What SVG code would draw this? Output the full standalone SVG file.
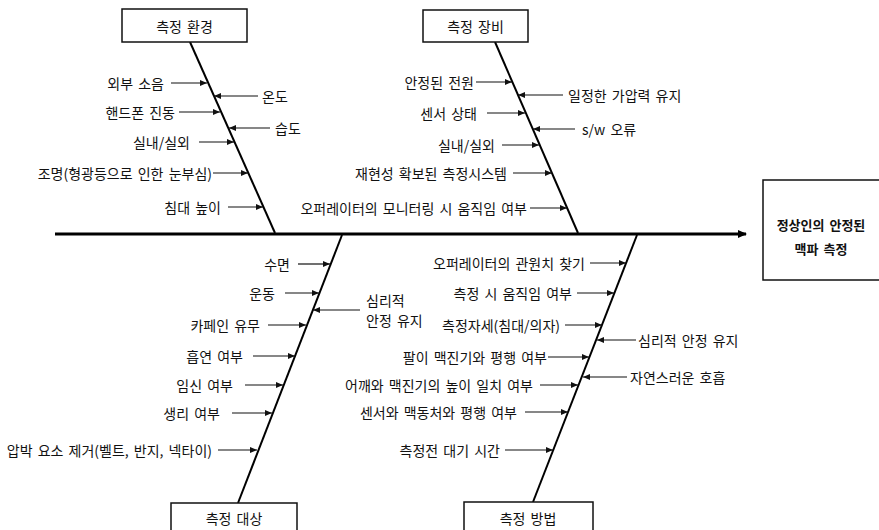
<svg xmlns="http://www.w3.org/2000/svg" width="879" height="530" viewBox="0 0 879 530">
<style>
text{font-family:"Noto Sans CJK KR","Noto Sans",sans-serif;font-size:14px;word-spacing:2px;fill:#111;dominant-baseline:central}
.l{text-anchor:end}
.r{text-anchor:start}
.box{fill:#fff;stroke:#111;stroke-width:1.5}
.bt{font-size:14px;text-anchor:middle}
.eff{font-size:13px;font-weight:bold;text-anchor:middle}
.spine{stroke:#000;stroke-width:3;fill:none}
.bone{stroke:#000;stroke-width:2;fill:none}
.a{stroke:#111;stroke-width:1.2;fill:none;marker-end:url(#ah)}
</style>
<defs>
<marker id="ah" markerUnits="userSpaceOnUse" markerWidth="7" markerHeight="6" refX="7" refY="3" orient="auto"><path d="M0,0 L7,3 L0,6 z" fill="#111"/></marker>
<marker id="sh" markerUnits="userSpaceOnUse" markerWidth="9" markerHeight="8" refX="8" refY="4" orient="auto"><path d="M0,0 L9,4 L0,8 z" fill="#000"/></marker>
</defs>
<rect width="879" height="530" fill="#fff"/>
<g id="connectors">
<line class="spine" x1="55" y1="234" x2="746" y2="234" marker-end="url(#sh)"/>
<line class="bone" x1="190" y1="42" x2="275" y2="233"/>
<line class="bone" x1="495" y1="42" x2="578" y2="233"/>
<line class="bone" x1="342" y1="235" x2="238" y2="503"/>
<line class="bone" x1="637" y1="235" x2="533" y2="502"/>
<line class="a" x1="171" y1="83" x2="207" y2="83"/>
<line class="a" x1="179" y1="112" x2="220" y2="112"/>
<line class="a" x1="199" y1="142" x2="234" y2="142"/>
<line class="a" x1="213" y1="173" x2="248" y2="173"/>
<line class="a" x1="228" y1="207" x2="263" y2="207"/>
<line class="a" x1="258" y1="96" x2="214" y2="96"/>
<line class="a" x1="270" y1="128" x2="229" y2="128"/>
<line class="a" x1="476" y1="82" x2="512" y2="82"/>
<line class="a" x1="487" y1="113" x2="525" y2="113"/>
<line class="a" x1="502" y1="145" x2="539" y2="145"/>
<line class="a" x1="513" y1="173" x2="552" y2="173"/>
<line class="a" x1="530" y1="208" x2="567" y2="208"/>
<line class="a" x1="563" y1="95" x2="518" y2="95"/>
<line class="a" x1="575" y1="129" x2="533" y2="129"/>
<line class="a" x1="298" y1="264" x2="330" y2="264"/>
<line class="a" x1="285" y1="293" x2="319" y2="293"/>
<line class="a" x1="268" y1="325" x2="306" y2="325"/>
<line class="a" x1="253" y1="356" x2="295" y2="356"/>
<line class="a" x1="245" y1="385" x2="283" y2="385"/>
<line class="a" x1="232" y1="413" x2="272" y2="413"/>
<line class="a" x1="218" y1="450" x2="257" y2="450"/>
<line class="a" x1="360" y1="310" x2="313" y2="310"/>
<line class="a" x1="590" y1="263" x2="626" y2="263"/>
<line class="a" x1="577" y1="293" x2="614" y2="293"/>
<line class="a" x1="565" y1="325" x2="602" y2="325"/>
<line class="a" x1="548" y1="357" x2="589" y2="357"/>
<line class="a" x1="540" y1="385" x2="578" y2="385"/>
<line class="a" x1="525" y1="412" x2="568" y2="412"/>
<line class="a" x1="505" y1="450" x2="553" y2="450"/>
<line class="a" x1="636" y1="340" x2="597" y2="340"/>
<line class="a" x1="627" y1="377" x2="583" y2="377"/>
</g>
<g id="cat-env"><rect class="box" x="122" y="9" width="125" height="33"/><text class="bt" x="184.5" y="25.5">측정 환경</text></g>
<g id="cat-equip"><rect class="box" x="423" y="10" width="105" height="32"/><text class="bt" x="475.5" y="26">측정 장비</text></g>
<g id="cat-subject"><rect class="box" x="171" y="503" width="126" height="40"/><text class="bt" x="234" y="518">측정 대상</text></g>
<g id="cat-method"><rect class="box" x="464" y="502" width="129" height="40"/><text class="bt" x="528" y="518">측정 방법</text></g>
<g id="effect"><rect class="box" x="763" y="180" width="120" height="100"/><text class="eff" x="821" y="224">정상인의 안정된</text><text class="eff" x="821" y="248">맥파 측정</text></g>
<g id="env-causes">
<text class="l" x="164" y="83">외부 소음</text>
<text class="l" x="175" y="112">핸드폰 진동</text>
<text class="l" x="190" y="142">실내/실외</text>
<text class="l" x="212" y="173">조명(형광등으로 인한 눈부심)</text>
<text class="l" x="221" y="207">침대 높이</text>
<text class="r" x="262" y="96">온도</text>
<text class="r" x="275" y="128">습도</text>
</g>
<g id="equip-causes">
<text class="l" x="474" y="82">안정된 전원</text>
<text class="l" x="477" y="113">센서 상태</text>
<text class="l" x="495" y="145">실내/실외</text>
<text class="l" x="507" y="173">재현성 확보된 측정시스템</text>
<text class="l" x="527" y="208">오퍼레이터의 모니터링 시 움직임 여부</text>
<text class="r" x="568" y="95">일정한 가압력 유지</text>
<text class="r" x="582" y="129">s/w 오류</text>
</g>
<g id="subject-causes">
<text class="l" x="290" y="264">수면</text>
<text class="l" x="275" y="293">운동</text>
<text class="l" x="260" y="325">카페인 유무</text>
<text class="l" x="243" y="356">흡연 여부</text>
<text class="l" x="233" y="385">임신 여부</text>
<text class="l" x="220" y="413">생리 여부</text>
<text class="l" x="212" y="450">압박 요소 제거(벨트, 반지, 넥타이)</text>
<text class="r" x="366" y="300">심리적</text>
<text class="r" x="366" y="320">안정 유지</text>
</g>
<g id="method-causes">
<text class="l" x="585" y="263">오퍼레이터의 관원치 찾기</text>
<text class="l" x="572" y="293">측정 시 움직임 여부</text>
<text class="l" x="560" y="325">측정자세(침대/의자)</text>
<text class="l" x="547" y="357">팔이 맥진기와 평행 여부</text>
<text class="l" x="533" y="385">어깨와 맥진기의 높이 일치 여부</text>
<text class="l" x="517" y="412">센서와 맥동처와 평행 여부</text>
<text class="l" x="500" y="450">측정전 대기 시간</text>
<text class="r" x="638" y="340">심리적 안정 유지</text>
<text class="r" x="630" y="377">자연스러운 호흡</text>
</g>
</svg>
